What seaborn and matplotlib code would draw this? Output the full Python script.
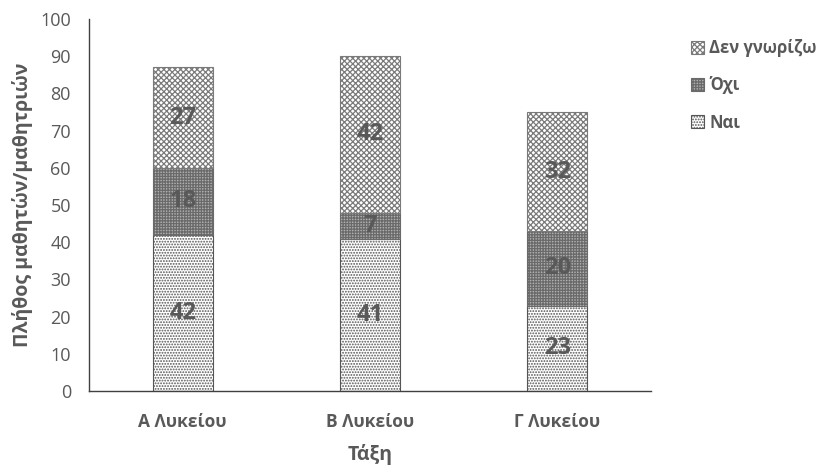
import matplotlib
matplotlib.use("Agg")
import matplotlib.pyplot as plt
import seaborn as sns

# Δεδομένα
classes = ["Α Λυκείου", "Β Λυκείου", "Γ Λυκείου"]
nai = [42, 41, 23]
oxi = [18, 7, 20]
den_gnorizo = [27, 42, 32]
yticks = list(range(0, 101, 10))

sns.set_style("white")
plt.rcParams['font.family'] = ['Open Sans', 'DejaVu Sans']
plt.rcParams['hatch.linewidth'] = 0.9
grey = '#595959'

fig = plt.figure(figsize=(8.19, 4.65), dpi=100)
ax = fig.add_axes([0.1087, 0.159, 0.686, 0.800])

bottom2 = [a + b for a, b in zip(nai, oxi)]

# Στοιβαγμένες μπάρες
sns.barplot(x=classes, y=nai, ax=ax, color='white', width=0.32, errorbar=None,
            edgecolor='#555555', linewidth=0.8, hatch='......', label='Ναι')
sns.barplot(x=classes, y=oxi, bottom=nai, ax=ax, color='#b0b0b0', width=0.32, errorbar=None,
            edgecolor='#6a6a6a', linewidth=0.8, hatch='++++++', label='Όχι')
sns.barplot(x=classes, y=den_gnorizo, bottom=bottom2, ax=ax, color='white', width=0.32, errorbar=None,
            edgecolor='#7a7a7a', linewidth=0.8, hatch='xxxxxx', label='Δεν γνωρίζω')

for cont in ax.containers:
    ax.bar_label(cont, label_type='center', fontsize=17, fontweight='bold', color=grey)

ax.set_xlim(-0.5, 2.5)
ax.set_ylim(0, 100)
ax.set_yticks(yticks)
ax.tick_params(axis='both', length=0, colors=grey)
ax.tick_params(axis='y', labelsize=13, pad=13)
ax.tick_params(axis='x', labelsize=12.5, pad=16)
for lbl in ax.get_xticklabels():
    lbl.set_fontweight('bold')

for side in ['top', 'right']:
    ax.spines[side].set_visible(False)
for side in ['left', 'bottom']:
    ax.spines[side].set_color('#404040')
    ax.spines[side].set_linewidth(1.0)

ax.set_xlabel("Τάξη", fontsize=14, fontweight='bold', color=grey, labelpad=9)
ax.set_ylabel("Πλήθος μαθητών/μαθητριών", fontsize=14, fontweight='bold', color=grey, labelpad=5)

# Υπόμνημα σε αντίστροφη σειρά
handles, labels = ax.get_legend_handles_labels()
if ax.get_legend() is not None:
    ax.get_legend().remove()
leg = fig.legend(handles[::-1], labels[::-1], loc='upper left', bbox_to_anchor=(0.825, 0.948),
                 frameon=False, handlelength=0.8, handleheight=0.8, handletextpad=0.3,
                 labelspacing=1.15, prop={'size': 12, 'weight': 'bold'})
for t in leg.get_texts():
    t.set_color(grey)

fig.savefig("out.png", dpi=100)
